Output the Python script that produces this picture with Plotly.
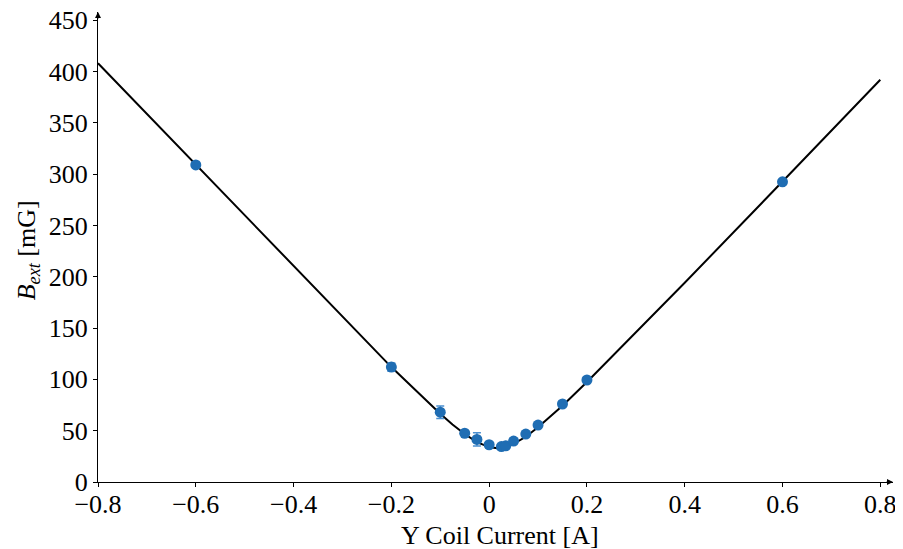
import plotly.graph_objects as go

# measured data
current = [-0.6, -0.2, -0.1, -0.05, -0.025, 0.0, 0.025, 0.034, 0.05, 0.075, 0.1, 0.15, 0.2, 0.6]
b_ext = [309, 112, 68, 47.5, 41.5, 36.3, 34.5, 35.3, 39.9, 46.7, 55.5, 76, 99.4, 292.5]
b_err = [2, 4, 6, 2, 6.5, 3, 2, 2, 2, 2, 2, 2, 2, 2]

# fitted curve
fit_x = [-0.8, -0.6, -0.4, -0.2, -0.1, -0.075, -0.05, -0.025, 0.0, 0.016, 0.025, 0.04,
         0.05, 0.075, 0.1, 0.15, 0.2, 0.4, 0.6, 0.8]
fit_y = [408, 309, 210, 112, 66.6, 56, 46.8, 38.8, 34, 33, 33.3, 35.1,
         37.1, 44.1, 53.3, 74.4, 97.4, 194.1, 292.8, 392]

x_ticks = [-0.8, -0.6, -0.4, -0.2, 0, 0.2, 0.4, 0.6, 0.8]
x_tick_text = ["−0.8", "−0.6", "−0.4", "−0.2", "0", "0.2", "0.4", "0.6", "0.8"]
y_ticks = [0, 50, 100, 150, 200, 250, 300, 350, 400, 450]

FONT = "Liberation Serif"

fig = go.Figure()
fig.add_trace(go.Scatter(x=fit_x, y=fit_y, mode="lines",
                         line=dict(color="black", width=2), showlegend=False))
fig.add_trace(go.Scatter(x=current, y=b_ext, mode="markers",
                         marker=dict(color="#1f6db3", size=11),
                         error_y=dict(type="data", array=b_err, color="#4a8fd0",
                                      thickness=1.5, width=4),
                         showlegend=False))

fig.update_layout(
    width=903, height=549,
    margin=dict(l=90, r=18, t=4, b=75),
    plot_bgcolor="white", paper_bgcolor="white",
    font=dict(family=FONT, size=26, color="black"),
)
fig.update_xaxes(range=[-0.8, 0.826], tickvals=x_ticks, ticktext=x_tick_text,
                 showgrid=False, zeroline=False, showline=True, linecolor="black",
                 linewidth=1.2, ticks="outside", ticklen=4, tickcolor="black",
                 automargin=False, ticklabelstandoff=-5, ticklabeloverflow="allow")
fig.update_yaxes(range=[0, 458], tickvals=y_ticks, showgrid=False, zeroline=False,
                 showline=True, linecolor="black", linewidth=1.2, ticks="outside",
                 ticklen=4, tickcolor="black", automargin=False,
                 ticklabeloverflow="allow")

# axis titles
fig.add_annotation(text="Y Coil Current [A]", xref="paper", yref="paper",
                   x=0.506, y=-0.113, xanchor="center", yanchor="middle",
                   showarrow=False, font=dict(size=26))
fig.add_annotation(text="<i>B</i><sub><i>ext</i></sub> [mG]", xref="paper", yref="paper",
                   x=-0.088, y=0.493, xanchor="center", yanchor="middle", textangle=-90,
                   showarrow=False, font=dict(size=26))

# axis arrows
fig.add_annotation(x=1.0, y=0, xref="paper", yref="paper", ax=-8, ay=0,
                   showarrow=True, arrowhead=2, arrowsize=1, arrowwidth=1.2,
                   arrowcolor="black", text="")
fig.add_annotation(x=0, y=1.0, xref="paper", yref="paper", ax=0, ay=8,
                   showarrow=True, arrowhead=2, arrowsize=1, arrowwidth=1.2,
                   arrowcolor="black", text="")

fig.write_html("out.html")
